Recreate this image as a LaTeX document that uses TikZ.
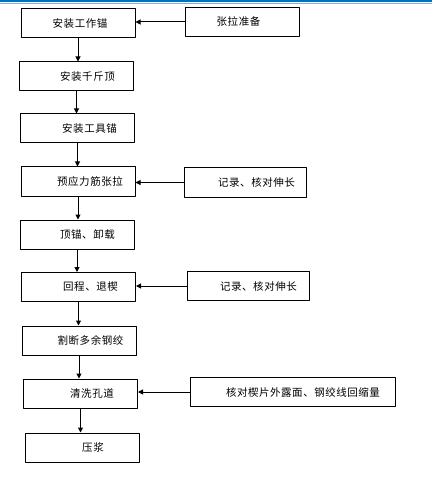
\documentclass[tikz,border=0pt]{standalone}
\usepackage{fontspec}
\newfontfamily\cjk[LetterSpace=5]{Noto Sans CJK SC}
\usetikzlibrary{arrows.meta}
\tikzset{buoc/.style={draw, line width=1pt, minimum width=114pt, minimum height=29pt, inner sep=0pt},
	ghichu/.style={draw, line width=1pt, minimum height=29pt, inner sep=0pt}}
\begin{document}
\begin{tikzpicture}[x=1pt,y=-1pt,>={Triangle[length=5pt,width=5pt]}, font=\cjk\fontsize{10.5}{12}\selectfont, line join=round]
	\useasboundingbox (0,0) rectangle (432,478);
	\definecolor{xanh}{RGB}{0,112,192} \definecolor{xanhnhat}{RGB}{120,180,230}
	\draw[xanh,line width=2pt] (0,1.2)--(432,1.2);
	\draw[xanhnhat,line width=0.8pt] (0,3.2)--(432,3.2);
	% Các bước chính
	\node[buoc] (b1) at (78,23.5) {\hspace*{4pt}安装工作锚};
	\node[buoc] (b2) at (76.5,76.5) {\hspace*{22pt}安装千斤顶};
	\node[buoc] (b3) at (77.5,128.5) {\hspace*{24pt}安装工具锚};
	\node[buoc] (b4) at (78,181.5) {\hspace*{24pt}预应力筋张拉};
	\node[buoc] (b5) at (77,234.5) {\hspace*{21pt}顶锚、卸载};
	\node[buoc] (b6) at (78.5,287) {\hspace*{24pt}回程、退楔};
	\node[buoc] (b7) at (79,340.5) {\hspace*{23pt}割断多余钢绞};
	\node[buoc] (b8) at (80.5,393.5) {\hspace*{23pt}清洗孔道};
	\node[buoc] (b9) at (82,447.5) {\hspace*{22pt}压浆};
	% Ghi chú bên phải
	\node[ghichu, minimum width=114pt] (g1) at (242,22) {张拉准备\hspace*{7pt}};
	\node[ghichu, minimum width=122pt] (g2) at (245,182.5) {\hspace*{23pt}记录、核对伸长};
	\node[ghichu, minimum width=122pt] (g3) at (248,286) {\hspace*{21pt}记录、核对伸长};
	\node[ghichu, minimum width=205pt] (g4) at (292.5,392) {\hspace*{21pt}核对楔片外露面、钢绞线回缩量};
	% Mũi tên
	\foreach \i/\j in {1/2,2/3,3/4,4/5,5/6,6/7,7/8,8/9}
		\draw[->,line width=1pt] (b\i.south)--(b\i.south|-b\j.north);
	\foreach \g/\b in {1/1,2/4,3/6,4/8}
		\draw[->,line width=1pt] (g\g.west)--(g\g.west-|b\b.east);
\end{tikzpicture}
\end{document}
